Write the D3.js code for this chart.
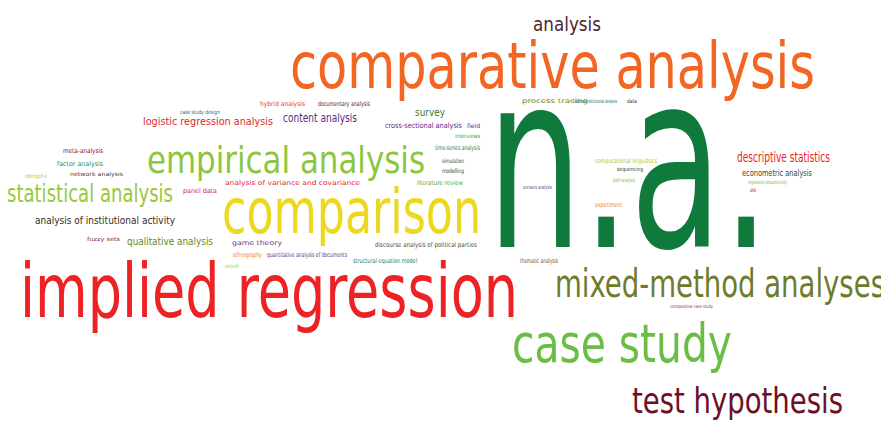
<!DOCTYPE html>
<html>
<head>
<meta charset="utf-8">
<script src="https://cdn.jsdelivr.net/npm/d3@7"></script>
<style>
  body { margin: 0; background: #fff; }
  svg text { font-family: "Liberation Sans Narrow", "Arial Narrow", "DejaVu Sans Condensed", sans-serif; font-stretch: condensed; }
</style>
</head>
<body>
<div id="chart"></div>
<script>
// words of the cloud and their weights (bigger weight -> bigger word)
let words = [
    'n.a.', 'implied regression', 'comparative analysis', 'comparison', 'case study',
    'mixed-method analyses', 'empirical analysis', 'test hypothesis', 'statistical analysis', 'analysis',
    'descriptive statistics', 'logistic regression analysis', 'content analysis', 'analysis of institutional activity', 'qualitative analysis',
    'survey', 'econometric analysis', 'cross-sectional analysis', 'hybrid analysis', 'documentary analysis',
    'time-series analysis', 'simulation', 'modelling', 'literature review', 'analysis of variance and covariance',
    'panel data', 'meta-analysis', 'factor analysis', 'network analysis', 'delphi',
    'fuzzy sets', 'game theory', 'ethnography', 'quantitative analysis of documents', 'structural equation model',
    'cost-benefit', 'discourse analysis of political parties', 'process tracing', 'historical-institutional analysis', 'data',
    'scenario analysis', 'computational linguistics', 'sequencing', 'path analysis', 'experiment',
    'regression discontinuity', 'ols', 'thematic analysis', 'comparative case study', 'field', 'interviews', 'case study design'
];
let weights = [
    52, 16, 13.6, 13.2, 11.5,
    8.3, 7.9, 7.5, 5.1, 4.2,
    2.8, 2.4, 2.5, 2.4, 2.2,
    2.1, 1.8, 1.6, 1.4, 1.4,
    1.4, 1.3, 1.3, 1.4, 1.4,
    1.4, 1.4, 1.4, 1.2, 1.2,
    1.2, 1.4, 1.4, 1.4, 1.4,
    1.2, 1.4, 1.4, 1.2, 1.2,
    1.2, 1.4, 1.2, 1.2, 1.4,
    1.2, 1.2, 1.4, 1.0, 1.3, 1.2, 1.2
];

// fixed layout of the cloud: left x, baseline y, word length (px)
let place_x = [
    487, 20, 290, 222, 512,
    555, 147, 632, 7, 533,
    737, 143, 283, 35, 127,
    415, 742, 385, 260, 318,
    435, 442, 442, 417, 225,
    183, 63, 57, 70, 25,
    87, 232, 233, 267, 353,
    225, 375, 522, 573, 627,
    523, 595, 617, 613, 595,
    748, 750, 520, 670, 467, 455, 180
];
let place_y = [
    247, 317, 88, 233, 362,
    297, 173, 413, 202, 31,
    162, 125, 122, 224, 245,
    116, 176, 128, 106, 106,
    150, 163, 173, 185, 185,
    193, 153, 166, 176, 178,
    241, 245, 257, 257, 263,
    268, 247, 103, 103, 103,
    189, 163, 171, 182, 207,
    184, 192, 263, 308, 128, 138, 114
];
let place_w = [
    283, 498, 525, 259, 220,
    330, 278, 211, 166, 68,
    93, 130, 74, 140, 86,
    30, 70, 77, 45, 52,
    45, 22, 22, 46, 135,
    34, 40, 46, 53, 22,
    33, 50, 29, 80, 64,
    14, 102, 66, 44, 10,
    29, 62, 26, 22, 27,
    39, 6, 38, 43, 13, 25, 40
];
let word_colors = [
    '#0f7a3b', '#ed2224', '#f26522', '#ebd81f', '#6abd45',
    '#6f7b2c', '#8cc63f', '#6d0f25', '#98c93c', '#4f2430',
    '#ed1c24', '#e0282e', '#5b2a86', '#3b2a1e', '#6b8a23',
    '#3d7a2a', '#2a4a2a', '#5b2a86', '#e8383d', '#4a2a1a',
    '#2a7a5a', '#2a4a3a', '#2a4a3a', '#5aa83a', '#e0282e',
    '#e0282e', '#7a1a2a', '#2a8a6a', '#5a3a2a', '#b8d040',
    '#8a2a3a', '#6a3a8a', '#f07a2a', '#5b3a8a', '#2a7a5a',
    '#9ac83a', '#5a4a2a', '#6a8a2a', '#2a6a6a', '#3a3a2a',
    '#6a3a8a', '#b0c830', '#2a4a2a', '#7ac040', '#f07a2a',
    '#7ac040', '#8a2a3a', '#7a4a2a', '#8a2a3a', '#5b2a86', '#3a9a4a', '#2a6e4a'
];

let width = 881, height = 425;

let svg = d3.select('#chart').append('svg')
    .attr('width', width)
    .attr('height', height);

let size = d3.scaleLinear()
    .domain([0, d3.max(weights)])
    .range([0, 245]);

let cloud = words.map(function (w, i) {
    return {text: w, weight: weights[i], x: place_x[i], y: place_y[i], len: place_w[i], color: word_colors[i]};
});

svg.append('g').selectAll('text')
    .data(cloud)
    .join('text')
    .attr('x', d => d.x)
    .attr('y', d => d.y)
    .attr('font-size', d => size(d.weight))
    .attr('textLength', d => d.len)
    .attr('lengthAdjust', 'spacingAndGlyphs')
    .attr('fill', d => d.color)
    .text(d => d.text);
</script>
</body>
</html>
